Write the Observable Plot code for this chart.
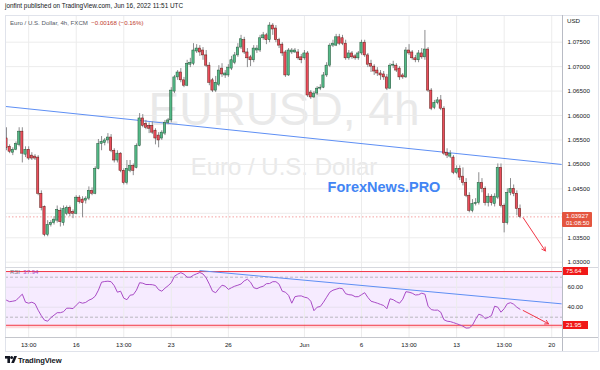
<!DOCTYPE html>
<html>
<head>
<meta charset="utf-8">
<script src="https://cdn.jsdelivr.net/npm/d3@7"></script>
<script src="https://cdn.jsdelivr.net/npm/@observablehq/plot@0.6"></script>
<style>
  html,body{margin:0;padding:0;background:#fff;}
  #chart{position:relative;width:600px;height:370px;overflow:hidden;background:#fff;font-family:"Liberation Sans",Arial,sans-serif;color:#131722;}
  #chart .t{position:absolute;white-space:nowrap;line-height:1;}
  #chart .ln{position:absolute;}
  #chart svg.plotsvg{position:absolute;left:0;}
</style>
</head>
<body>
<div id="chart"></div>
<script>
// ---------- DATA (EUR/USD 4h, FXCM) ----------
const openP = [
1.0571,1.0553,1.0536,1.0524,1.0530,1.0540,1.0567,1.0520,1.0530,1.0518,
1.0516,1.0514,1.0440,1.0413,1.0356,1.0376,1.0380,1.0385,1.0405,1.0380,
1.0399,1.0411,1.0403,1.0399,1.0432,1.0428,1.0426,1.0430,1.0446,1.0440,
1.0491,1.0542,1.0544,1.0549,1.0555,1.0528,1.0508,1.0522,1.0487,1.0462,
1.0487,1.0497,1.0493,1.0538,1.0594,1.0583,1.0579,1.0579,1.0569,1.0559,
1.0553,1.0563,1.0585,1.0590,1.0649,1.0678,1.0688,1.0672,1.0661,1.0704,
1.0706,1.0731,1.0737,1.0733,1.0723,1.0702,1.0672,1.0651,1.0663,1.0696,
1.0682,1.0682,1.0696,1.0708,1.0723,1.0739,1.0754,1.0729,1.0719,1.0713,
1.0733,1.0733,1.0758,1.0764,1.0754,1.0784,1.0778,1.0754,1.0745,1.0729,
1.0682,1.0729,1.0729,1.0729,1.0719,1.0717,1.0727,1.0647,1.0637,1.0645,
1.0655,1.0657,1.0682,1.0702,1.0743,1.0743,1.0760,1.0758,1.0747,1.0717,
1.0727,1.0721,1.0717,1.0727,1.0749,1.0723,1.0706,1.0700,1.0692,1.0686,
1.0684,1.0678,1.0655,1.0702,1.0702,1.0696,1.0682,1.0678,1.0733,1.0729,
1.0717,1.0713,1.0727,1.0719,1.0735,1.0651,1.0616,1.0626,1.0631,1.0614,
1.0524,1.0516,1.0514,1.0483,1.0491,1.0475,1.0462,1.0436,1.0405,1.0419,
1.0421,1.0462,1.0450,1.0421,1.0434,1.0419,1.0432,1.0493,1.0415,1.0380,
1.0442,1.0450,1.0440,1.0409];
const highP = [
1.0575,1.0575,1.0540,1.0534,1.0546,1.0575,1.0575,1.0536,1.0536,1.0524,
1.0520,1.0518,1.0446,1.0415,1.0385,1.0385,1.0393,1.0415,1.0411,1.0415,
1.0415,1.0415,1.0407,1.0436,1.0436,1.0434,1.0434,1.0454,1.0452,1.0495,
1.0551,1.0557,1.0553,1.0563,1.0561,1.0532,1.0528,1.0524,1.0491,1.0508,
1.0508,1.0501,1.0542,1.0604,1.0602,1.0590,1.0585,1.0587,1.0573,1.0565,
1.0569,1.0590,1.0594,1.0657,1.0682,1.0692,1.0696,1.0678,1.0713,1.0717,
1.0747,1.0745,1.0743,1.0739,1.0733,1.0708,1.0676,1.0680,1.0702,1.0706,
1.0692,1.0704,1.0721,1.0729,1.0747,1.0764,1.0760,1.0737,1.0723,1.0743,
1.0743,1.0764,1.0770,1.0768,1.0790,1.0788,1.0784,1.0758,1.0749,1.0733,
1.0737,1.0737,1.0737,1.0735,1.0725,1.0733,1.0731,1.0651,1.0649,1.0659,
1.0663,1.0688,1.0708,1.0747,1.0754,1.0766,1.0766,1.0764,1.0754,1.0733,
1.0731,1.0725,1.0731,1.0754,1.0754,1.0727,1.0713,1.0704,1.0698,1.0692,
1.0690,1.0684,1.0706,1.0711,1.0706,1.0700,1.0686,1.0739,1.0745,1.0733,
1.0723,1.0733,1.0737,1.0774,1.0739,1.0655,1.0631,1.0637,1.0641,1.0618,
1.0532,1.0528,1.0518,1.0497,1.0497,1.0493,1.0471,1.0442,1.0428,1.0430,
1.0483,1.0471,1.0454,1.0440,1.0438,1.0440,1.0501,1.0501,1.0419,1.0450,
1.0471,1.0458,1.0446,1.0417];
const lowP = [
1.0549,1.0528,1.0522,1.0518,1.0528,1.0536,1.0503,1.0514,1.0508,1.0508,
1.0508,1.0436,1.0405,1.0352,1.0352,1.0372,1.0376,1.0380,1.0372,1.0374,
1.0395,1.0393,1.0389,1.0397,1.0419,1.0391,1.0419,1.0426,1.0436,1.0438,
1.0489,1.0528,1.0538,1.0542,1.0524,1.0503,1.0503,1.0483,1.0458,1.0458,
1.0483,1.0477,1.0491,1.0536,1.0575,1.0571,1.0563,1.0561,1.0540,1.0534,
1.0549,1.0559,1.0581,1.0585,1.0645,1.0672,1.0667,1.0657,1.0659,1.0698,
1.0702,1.0727,1.0721,1.0713,1.0698,1.0661,1.0647,1.0647,1.0659,1.0678,
1.0676,1.0678,1.0692,1.0704,1.0719,1.0735,1.0725,1.0698,1.0700,1.0708,
1.0727,1.0729,1.0754,1.0745,1.0749,1.0764,1.0749,1.0737,1.0721,1.0678,
1.0680,1.0725,1.0727,1.0713,1.0706,1.0713,1.0637,1.0633,1.0635,1.0641,
1.0651,1.0655,1.0678,1.0698,1.0739,1.0741,1.0743,1.0743,1.0713,1.0713,
1.0715,1.0713,1.0713,1.0723,1.0719,1.0698,1.0688,1.0682,1.0680,1.0672,
1.0672,1.0651,1.0653,1.0696,1.0688,1.0672,1.0674,1.0676,1.0723,1.0713,
1.0708,1.0708,1.0715,1.0713,1.0647,1.0610,1.0612,1.0622,1.0610,1.0518,
1.0512,1.0512,1.0479,1.0479,1.0467,1.0456,1.0432,1.0401,1.0401,1.0415,
1.0417,1.0442,1.0415,1.0413,1.0415,1.0413,1.0428,1.0411,1.0360,1.0376,
1.0436,1.0434,1.0395,1.0389];
const closeP = [
1.0553,1.0534,1.0526,1.0530,1.0542,1.0567,1.0522,1.0530,1.0512,1.0512,
1.0512,1.0440,1.0411,1.0356,1.0376,1.0380,1.0387,1.0407,1.0382,1.0409,
1.0411,1.0399,1.0399,1.0432,1.0423,1.0421,1.0430,1.0446,1.0440,1.0491,
1.0542,1.0546,1.0549,1.0555,1.0528,1.0508,1.0522,1.0487,1.0462,1.0491,
1.0497,1.0487,1.0538,1.0594,1.0579,1.0575,1.0573,1.0565,1.0553,1.0549,
1.0565,1.0585,1.0590,1.0651,1.0678,1.0688,1.0672,1.0661,1.0706,1.0708,
1.0733,1.0737,1.0729,1.0723,1.0702,1.0667,1.0651,1.0667,1.0692,1.0684,
1.0686,1.0698,1.0713,1.0723,1.0739,1.0756,1.0729,1.0717,1.0713,1.0737,
1.0737,1.0758,1.0764,1.0754,1.0784,1.0776,1.0754,1.0743,1.0727,1.0682,
1.0733,1.0733,1.0733,1.0717,1.0713,1.0727,1.0641,1.0637,1.0645,1.0655,
1.0657,1.0682,1.0702,1.0743,1.0747,1.0760,1.0747,1.0747,1.0717,1.0727,
1.0719,1.0717,1.0727,1.0749,1.0723,1.0704,1.0700,1.0690,1.0686,1.0682,
1.0678,1.0655,1.0702,1.0704,1.0692,1.0678,1.0678,1.0733,1.0727,1.0717,
1.0713,1.0727,1.0719,1.0735,1.0651,1.0614,1.0626,1.0631,1.0614,1.0522,
1.0518,1.0522,1.0483,1.0491,1.0473,1.0462,1.0436,1.0405,1.0419,1.0421,
1.0462,1.0450,1.0421,1.0434,1.0421,1.0434,1.0493,1.0415,1.0380,1.0442,
1.0450,1.0440,1.0409,1.03927];
const rsiValues = [
48,47,45.5,46,46.7,50,53,45,44,45,
43.5,37,31.5,27,26,29.5,32,34.5,34.5,35.5,
39,39,38.6,42,45,44,44.8,47,48.4,51,
57,65,65.7,66,65.5,61.5,55,56,49,47.5,
52,52.5,57,64.5,64,62.7,62.7,62.5,61.7,57.5,
56,59,61.5,64.5,71,73,74.5,73,70,70,
72,73.4,74.7,73.2,69.3,63,56,54.5,58.5,62,
61,57.8,59.5,61,62,63.2,66.3,68,65,59.5,
58.5,60,61,63.5,63.7,65.5,65.5,63,56,55,
51.8,44,50.5,51.2,51.3,50,49.3,46,36.5,40,
40.7,45,50,55,57,58,59,58.5,53.5,52.5,
52.2,50.5,50.5,52.5,54.5,49.8,46,45,44,42.8,
41.7,38.5,48.4,47.5,45.5,44,48,55.5,55,54,
52.2,52.5,54,53,41,37.6,37,37.1,35,27.5,
26,25.6,24.6,23.5,22.3,21,19.1,19.3,22,28,
33,31.8,28.7,29.8,31.7,41,40,35,38.5,43.5,
44.5,43,40,37.94];

// time axis: bar index of each tick and its label
const timeTickBars   = [8, 23, 38, 53, 71, 95, 113, 128, 143, 158, 173];
const timeTickLabels = ["13:00","16","13:00","23","26","Jun","6","13:00","13","13:00","20"];
const priceGrid = [1.030, 1.035, 1.040, 1.045, 1.050, 1.055, 1.060, 1.065, 1.070, 1.075];
const priceTickLabels = [1.030, 1.035, 1.045, 1.050, 1.055, 1.060, 1.065, 1.070, 1.075]; // 1.040 sits under the last-price tag
const rsiTicks = [60, 40];
const rsiGrid = [60, 40];
const rsiBandLevels = [70, 30];
const rsiUserLevels = [75.64, 21.95];
// user drawings
const priceTrendBars = [0, 176];
const priceTrendValues = [1.0619, 1.0500];
const rsiTrendBars = [62, 176];
const rsiTrendValues = [76.6, 43.4];
const priceArrowBars = [164, 171];
const priceArrowValues = [1.0391, 1.0323];
const rsiArrowBars = [164, 172];
const rsiArrowValues = [36.7, 23.4];
const lastPrice = 1.03927;
const lastRsi = 37.94;

// ---------- BUILD ----------
const root = document.getElementById("chart");
function txt(s, left, top, size, color, extra = "") {
  const d = document.createElement("div");
  d.className = "t";
  d.style.cssText = `left:${left}px;top:${top}px;font-size:${size}px;color:${color};${extra}`;
  d.innerHTML = s;
  root.appendChild(d);
  return d;
}
function box(left, top, w, h, css) {
  const d = document.createElement("div");
  d.className = "ln";
  d.style.cssText = `left:${left}px;top:${top}px;width:${w}px;height:${h}px;${css}`;
  root.appendChild(d);
  return d;
}

// watermarks (behind)
txt("EURUSD, 4h", 284, 86, 46, "#e9e9e9", "transform:translateX(-50%);");
txt("Euro / U.S. Dollar", 284, 155, 24, "#e9e9e9", "transform:translateX(-50%);");

const bars = closeP.map((c, i) => ({i, o: openP[i], h: highP[i], l: lowP[i], c, r: rsiValues[i]}));
const up = d => d.c >= d.o;
const xOpt = {type: "linear", domain: [0, 176], range: [2.8, 2.8 + 3.17 * 176]};
const font = "Liberation Sans, Arial, sans-serif";

const pricePlot = Plot.plot({
  width: 600, height: 252,
  marginLeft: 5, marginRight: 38, marginTop: 0, marginBottom: 0,
  x: {...xOpt, axis: null},
  y: {domain: [1.03, 1.075], range: [246.7, 26.7]},
  style: {background: "transparent", fontFamily: font, fontSize: "6.2px", color: "#131722"},
  marks: [
    Plot.gridY(priceGrid, {stroke: "#ececec", strokeOpacity: 1}),
    Plot.gridX(timeTickBars, {stroke: "#ececec", strokeOpacity: 1}),
    Plot.ruleY([lastPrice], {stroke: "#f08a8a", strokeDasharray: "1.5,2", strokeWidth: 0.8, clip: true}),
    Plot.line(priceTrendBars.map((b, k) => ({b, v: priceTrendValues[k]})), {x: "b", y: "v", stroke: "#5e8ff4", strokeWidth: 1, clip: true}),
    Plot.ruleX(bars, {x: "i", y1: "l", y2: "h", stroke: "#8c8c8e", strokeWidth: 1, clip: true}),
    Plot.rect(bars, {x1: d => d.i - 0.36, x2: d => d.i + 0.36, y1: "o", y2: "c",
      fill: d => up(d) ? "#53b987" : "#eb4d5c", stroke: d => up(d) ? "#225437" : "#5b1a13", strokeWidth: 0.5, clip: true}),
    Plot.arrow([0], {x1: () => priceArrowBars[0], y1: () => priceArrowValues[0], x2: () => priceArrowBars[1], y2: () => priceArrowValues[1],
      stroke: "#f23645", strokeWidth: 1, headLength: 6}),
    Plot.axisY(priceTickLabels, {anchor: "right", tickSize: 0, tickPadding: 5, tickFormat: d3.format(".5f"), label: null})
  ]
});
pricePlot.classList.add("plotsvg");
pricePlot.style.top = "15px";
root.appendChild(pricePlot);

const rsiPlot = Plot.plot({
  width: 600, height: 85,
  marginLeft: 5, marginRight: 38, marginTop: 0, marginBottom: 15,
  x: {...xOpt},
  y: {domain: [0, 100], range: [79.7, -20.3]},
  style: {background: "transparent", fontFamily: font, fontSize: "6.2px", color: "#131722"},
  marks: [
    Plot.rect([rsiUserLevels], {y1: d => d[1], y2: d => d[0], fill: "#9915ff", fillOpacity: 0.085}),
    Plot.gridY(rsiGrid, {stroke: "#e6e0ee", strokeOpacity: 1}),
    Plot.gridX(timeTickBars, {stroke: "#ececec", strokeOpacity: 1}),
    Plot.ruleY(rsiBandLevels, {stroke: "#a9a9b0", strokeDasharray: "3,2", strokeWidth: 0.8}),
    Plot.ruleY([rsiUserLevels[1]], {stroke: "#f23645", strokeOpacity: 0.18, strokeWidth: 3, dy: 1.5}),
    Plot.ruleY(rsiUserLevels, {stroke: "#f23645", strokeWidth: 1}),
    Plot.line(rsiTrendBars.map((b, k) => ({b, v: rsiTrendValues[k]})), {x: "b", y: "v", stroke: "#5e8ff4", strokeWidth: 1, clip: true}),
    Plot.line(bars, {x: "i", y: "r", stroke: "#a94bc6", strokeWidth: 1, clip: true}),
    Plot.arrow([0], {x1: () => rsiArrowBars[0], y1: () => rsiArrowValues[0], x2: () => rsiArrowBars[1], y2: () => rsiArrowValues[1],
      stroke: "#f23645", strokeWidth: 1, headLength: 6}),
    Plot.axisY(rsiTicks, {anchor: "right", tickSize: 0, tickPadding: 5, tickFormat: d3.format(".2f"), label: null}),
    Plot.axisX(timeTickBars, {anchor: "bottom", tickSize: 0, tickPadding: 5, label: null,
      tickFormat: d => timeTickLabels[timeTickBars.indexOf(d)]})
  ]
});
rsiPlot.classList.add("plotsvg");
rsiPlot.style.top = "267px";
root.appendChild(rsiPlot);

// frame lines
box(5, 15, 592, 335, "border:1px solid #e0e3eb;");
box(562, 15, 1, 336, "background:#b8bbc4;");
box(5, 267, 593, 1, "background:#d6d8de;");
box(5, 336.5, 593, 1.5, "background:#c4c6cc;");

// header and legends
txt("jonfint published on TradingView.com, Jun 16, 2022 11:51 UTC", 5, 3, 6.4, "#131722");
txt('Euro / U.S. Dollar, 4h, FXCM&nbsp;&nbsp;<span style="color:#c0392b">−0.00168 (−0.16%)</span>', 10, 19.5, 6.1, "#555a66");
txt("USD", 567, 18, 6.2, "#131722");
txt('RSI&nbsp;&nbsp;<span style="color:#a94bc6">' + lastRsi.toFixed(2) + '</span>', 10, 268.8, 6, "#787b86");
txt("ForexNews.PRO", 384, 180, 14.5, "#4285f4", "font-weight:bold;transform:translateX(-50%);");

// price label on axis
const yP = 15 + pricePlot.scale("y").apply(lastPrice);
box(562, yP - 4.5, 30, 15.5, "background:#e4553f;border-radius:1px;");
txt(lastPrice.toFixed(5), 566, yP - 3.2, 6.2, "#fff");
txt("01:08:50", 566, yP + 3.6, 6, "#fff");
// RSI level labels
const rsiY = rsiPlot.scale("y");
rsiUserLevels.forEach(v => {
  const y = 267 + rsiY.apply(v);
  box(563, y - 4.2, 25, 8.5, "background:#f01818;");
  txt(v.toFixed(2), 566, y - 3.1, 6.2, "#fff");
});

// footer logo
const logo = document.createElementNS("http://www.w3.org/2000/svg", "svg");
logo.setAttribute("width", "12"); logo.setAttribute("height", "8");
logo.style.cssText = "position:absolute;left:5px;top:356px;";
logo.innerHTML = '<rect x="0" y="0" width="5" height="2.6" fill="#131722"/><rect x="2.4" y="0" width="2.6" height="7" fill="#131722"/><circle cx="6.6" cy="1.6" r="1.5" fill="#131722"/><path d="M9.2 0 H12 L9 7 H6.2 Z" fill="#131722"/>';
root.appendChild(logo);
txt("TradingView", 18, 356.5, 7.6, "#131722", "font-weight:bold;letter-spacing:-0.1px;");
</script>
</body>
</html>
